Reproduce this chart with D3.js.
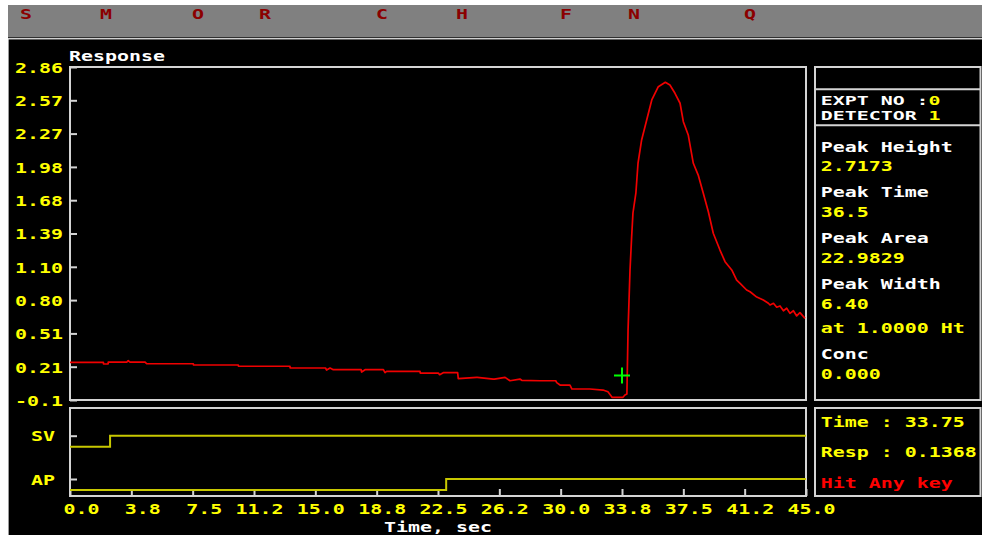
<!DOCTYPE html>
<html><head><meta charset="utf-8">
<script src="https://cdn.jsdelivr.net/npm/d3@7"></script>
<style>
body{margin:0;background:#fff;}
svg{display:block;}
text{font-family:"DejaVu Sans Mono","Liberation Mono",monospace;font-weight:bold;font-size:14px;white-space:pre;}
text.small{font-size:13px;}
</style>
</head><body><svg id="c" width="982" height="535"></svg>
<script>
// ---------- data ----------
const menuItems = ["S","M","O","R","C","H","F","N","Q"];

const timeSec = [0.00,2.04,2.05,2.33,2.34,3.47,3.56,3.67,4.59,4.69,7.54,7.55,10.29,10.30,13.45,13.46,
  15.62,15.69,15.90,16.10,17.80,17.83,18.04,19.16,19.26,19.36,21.40,21.41,22.52,22.60,22.82,23.70,23.74,
  24.87,24.90,25.88,25.95,26.60,26.90,27.51,27.62,28.74,29.70,29.76,29.96,30.57,30.69,31.79,32.59,32.89,
  33.12,33.14,33.81,33.93,34.05,34.12,34.24,34.34,34.42,34.60,34.73,34.95,35.26,35.57,35.97,36.40,36.68,
  36.99,37.30,37.50,37.80,38.11,38.41,38.72,39.03,39.33,39.74,40.05,40.46,40.76,40.97,41.37,41.58,41.99,
  42.39,42.70,42.80,43.01,43.21,43.41,43.62,43.82,44.02,44.23,44.43,44.63,44.94];
const response = [0.253,0.253,0.238,0.238,0.255,0.255,0.267,0.255,0.255,0.240,0.240,0.229,0.229,0.218,0.218,0.2025,
  0.2025,0.185,0.2025,0.1875,0.1875,0.167,0.1875,0.1875,0.161,0.173,0.173,0.158,0.158,0.143,0.161,0.161,0.108,
  0.120,0.120,0.105,0.105,0.120,0.090,0.105,0.094,0.090,0.090,0.073,0.052,0.052,0.017,0.017,0.008,-0.007,
  -0.051,-0.056,-0.056,-0.036,-0.027,0.538,1.068,1.362,1.571,1.748,2.012,2.216,2.392,2.569,2.686,2.725,2.701,
  2.628,2.540,2.377,2.260,2.010,1.906,1.745,1.582,1.392,1.244,1.141,1.068,0.979,0.950,0.891,0.876,0.829,
  0.803,0.774,0.759,0.774,0.739,0.750,0.708,0.730,0.685,0.708,0.662,0.691,0.641];

const yTickValues = [-0.08,0.214,0.508,0.802,1.096,1.39,1.684,1.978,2.272,2.566,2.86];
const yTickLabels = ["-0.1","0.21","0.51","0.80","1.10","1.39","1.68","1.98","2.27","2.57","2.86"];
const xTickValues = [0,3.75,7.5,11.25,15,18.75,22.5,26.25,30,33.75,37.5,41.25,45];
const xTickLabels = ["0.0","3.8","7.5","11.2","15.0","18.8","22.5","26.2","30.0","33.8","37.5","41.2","45.0"];

const channels = ["SV","AP"];
const svTime = [0, 2.45, 45];  const svState = [0, 1, 1];
const apTime = [0, 23.0, 45];  const apState = [0, 1, 1];

const cursorTime = 33.75, cursorResp = 0.1368;
const exptNo = "0", detectorNo = "1";
const peakLabels = ["Peak Height","Peak Time","Peak Area","Peak Width"];
const peakValues = ["2.7173","36.5","22.9829","6.40"];
const widthAt = "1.0000";
const concValue = "0.000";

// ---------- layout ----------
const W = 982, H = 535;
const L = 70, R = 806, T = 67, B = 400;     // main plot
const BT = 408, BB = 496;                    // bottom plot
const PL = 815, PR = 980.5;                  // right panel
const SX = 12 / (14 * 0.602);
const SXS = 12 / (13 * 0.602);
const YEL = "#ffff00", WHT = "#ffffff", RED = "#ff0000", BOX = "#d4d4d4";

const svg = d3.select("#c");

function txt(x, y, parts, anchor, small) {
  const sx = small ? SXS : SX;
  const el = svg.append("text")
    .attr("class", small ? "small" : null)
    .attr("transform", `translate(${x},${y}) scale(${sx},1)`)
    .attr("text-anchor", anchor || "start");
  parts.forEach(p => el.append("tspan").attr("fill", p[1]).text(p[0]));
  return el;
}

// background & menu bar
svg.append("rect").attr("x",0).attr("y",0).attr("width",W).attr("height",H).attr("fill","#fff");
svg.append("rect").attr("x",8).attr("y",5).attr("width",W-8).attr("height",32).attr("fill","#808080");
svg.append("rect").attr("x",8).attr("y",37).attr("width",W-8).attr("height",1).attr("fill","#303030");
svg.append("rect").attr("x",8).attr("y",38).attr("width",W-8).attr("height",1.5).attr("fill","#d0d0d0");
svg.append("rect").attr("x",8).attr("y",39.5).attr("width",W-8).attr("height",H-39.5).attr("fill","#9a9a9a");
svg.append("rect").attr("x",9).attr("y",39.5).attr("width",W-9).attr("height",H-39.5).attr("fill","#000");

const menuX = [20,100,192,259,376,456,560,628,744];
menuItems.forEach((m,i) => txt(menuX[i], 19, [[m,"#8b0000"]]));

// scales
const x = d3.scaleLinear().domain([0,45]).range([L,R]);
const y = d3.scaleLinear().domain([-0.08,2.86]).range([B,T]);
const yc = d3.scalePoint().domain(channels).range([435.7,479]);
const levelOff = 11;

// boxes
function box(x0,y0,x1,y1){
  svg.append("rect").attr("x",x0).attr("y",y0).attr("width",x1-x0).attr("height",y1-y0)
    .attr("fill","none").attr("stroke",BOX).attr("stroke-width",2);
}
box(L,T,R,B);
box(L,BT,R,BB);
box(PL,T,PR,B);
svg.append("line").attr("x1",PL).attr("x2",PR).attr("y1",89.3).attr("y2",89.3).attr("stroke",BOX).attr("stroke-width",2);
svg.append("line").attr("x1",PL).attr("x2",PR).attr("y1",125.3).attr("y2",125.3).attr("stroke",BOX).attr("stroke-width",2);
box(PL,BT,PR,BB);

// y axis (main)
const gy = svg.append("g").attr("transform",`translate(${L},0)`)
  .call(d3.axisLeft(y).tickValues(yTickValues).tickFormat((d,i)=>yTickLabels[i]).tickSizeInner(-7).tickSizeOuter(0).tickPadding(7));
gy.select(".domain").remove();
gy.selectAll("line").attr("stroke",BOX).attr("stroke-width",2);
gy.selectAll("text").attr("fill",YEL).attr("x",null).attr("dy",null)
  .attr("transform",`translate(-7,5.3) scale(${SX},1)`);

// channel axis (bottom)
const gc = svg.append("g").attr("transform",`translate(${L},0)`)
  .call(d3.axisLeft(yc).tickSizeInner(-7).tickSizeOuter(0).tickPadding(15));
gc.select(".domain").remove();
gc.selectAll("line").attr("stroke",BOX).attr("stroke-width",2);
gc.selectAll("text").attr("fill",YEL).attr("x",null).attr("dy",null)
  .attr("transform",`translate(-15,5) scale(${SX},1)`);

// x axis (bottom)
const gx = svg.append("g").attr("transform",`translate(0,${BB})`)
  .call(d3.axisBottom(x).tickValues(xTickValues).tickFormat((d,i)=>xTickLabels[i]).tickSizeInner(-7).tickSizeOuter(0));
gx.select(".domain").remove();
gx.selectAll("line").attr("stroke",BOX).attr("stroke-width",2);
gx.selectAll("text").attr("fill",YEL).attr("y",null).attr("dy",null).attr("text-anchor","end")
  .attr("transform",`translate(29,18) scale(${SX},1)`);

// titles
txt(69, 60.5, [["Response",WHT]]);
txt((L+R)/2, 532, [["Time, sec",WHT]], "middle");

// response curve
const pts = timeSec.map((t,i)=>({t, v: response[i]}));
svg.append("path").datum(pts)
  .attr("d", d3.line().x(d=>x(d.t)).y(d=>y(d.v)))
  .attr("fill","none").attr("stroke","#f00000").attr("stroke-width",1.7).attr("stroke-linejoin","round");

// cursor
const cx = x(cursorTime), cy = y(cursorResp);
svg.append("path").attr("d",`M${cx-8},${cy}H${cx+8}M${cx},${cy-8}V${cy+8}`)
  .attr("stroke","#00ff00").attr("stroke-width",2).attr("fill","none");

// valve channels
function chan(name, ts, ss){
  const d = ts.map((t,i)=>({t, s: ss[i]}));
  svg.append("path").datum(d)
    .attr("d", d3.line().curve(d3.curveStepAfter).x(p=>x(p.t)).y(p=>yc(name) + (1-p.s)*levelOff))
    .attr("fill","none").attr("stroke","#c8c800").attr("stroke-width",2);
}
chan("SV", svTime, svState);
chan("AP", apTime, apState);

// right panel
const tx = 820.7;
txt(tx, 104.5, [["EXPT NO :",WHT],[exptNo,YEL]], "start", true);
txt(tx, 120, [["DETECTOR ",WHT],[detectorNo,YEL]], "start", true);
const peakBase = [151.7, 197, 243, 289];
peakLabels.forEach((lab,i)=>{
  txt(tx, peakBase[i], [[lab,WHT]]);
  txt(tx, peakBase[i]+19.5, [[peakValues[i],YEL]]);
});
txt(tx, 333, [["at "+widthAt+" Ht",YEL]]);
txt(tx, 359, [["Conc",WHT]]);
txt(tx, 378.5, [[concValue,YEL]]);

txt(tx, 427, [["Time : "+cursorTime.toFixed(2),YEL]]);
txt(tx, 457, [["Resp : "+cursorResp.toFixed(4),YEL]]);
txt(tx, 488, [["Hit Any key",RED]]);
</script>
</body></html>
